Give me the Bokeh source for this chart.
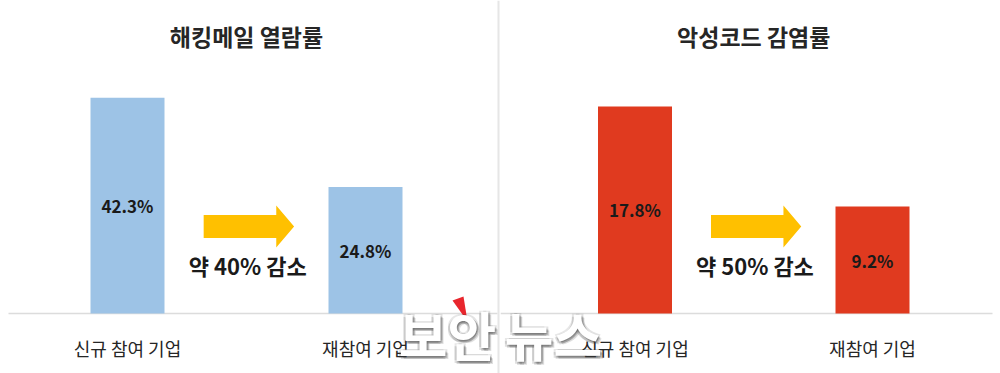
from bokeh.plotting import figure
from bokeh.layouts import row
from bokeh.models import Label, Span, Range1d
from bokeh.core.properties import value
from bokeh.embed import file_html
from bokeh.resources import INLINE

# --- data -------------------------------------------------------------
categories = ["신규 참여 기업", "재참여 기업"]
panel_titles = ["해킹메일 열람률", "악성코드 감염률"]
mail_open_rate = [42.3, 24.8]         # %
malware_infection_rate = [17.8, 9.2]  # %
reduction_notes = ["약 40% 감소", "약 50% 감소"]
watermark_parts = ["보안", "뉴스"]

# --- styling ----------------------------------------------------------
FONT = "Noto Sans CJK KR"
H = 373
BASE_PX = 313          # page row of the zero line
TEXT = "#262626"
ARROW = "#FFC000"
GRID = "#dcdcdc"


def make_panel(title, values, note, color, px_per_unit, width, left_px,
               center0_px, step_px, base_x0, base_x1, mark, mark_cx,
               wedge=False, divider_px=None):
    """One bar panel; fx/fy turn page pixels into this panel's data units."""

    def fx(px):
        return (px - center0_px) / step_px

    def fy(py):
        return (BASE_PX - py) / px_per_unit

    p = figure(width=width, height=H,
               x_range=Range1d(fx(left_px), fx(left_px + width)),
               y_range=Range1d(fy(H), fy(0)), output_backend="svg",
               toolbar_location=None, min_border=0)
    p.outline_line_color = None
    p.axis.visible = False
    p.grid.visible = False
    p.background_fill_color = "white"
    p.border_fill_color = "white"

    idx = list(range(len(categories)))

    # zero line
    p.segment(x0=[fx(base_x0)], y0=[0], x1=[fx(base_x1)], y1=[0],
              line_color=GRID, line_width=1.5)

    p.vbar(x=idx, top=values, width=74 / step_px, fill_color=color,
           line_color=None)

    # value labels in the middle of each bar
    p.text(x=idx, y=[v / 2 for v in values], text=[f"{v}%" for v in values],
           text_align="center", text_baseline="middle",
           text_font=value(FONT), text_font_size="17px",
           text_font_style="bold", text_color="#1a1a1a")

    # category labels under the zero line
    p.text(x=idx, y=[fy(347)] * len(idx), text=categories,
           text_align="center", text_baseline="middle",
           text_font=value(FONT), text_font_size="18px", text_color=TEXT)

    p.add_layout(Label(x=0.5, y=fy(35), text=title, text_align="center",
                       text_baseline="middle", text_font=FONT,
                       text_font_size="23px", text_font_style="bold",
                       text_color=TEXT))

    # block arrow between the two bars
    x0, xb, x1 = 0.32, 0.625, 0.70
    yc = fy(226)
    sh = 11.5 / px_per_unit
    hh = 21 / px_per_unit
    p.patch(x=[x0, xb, xb, x1, xb, xb, x0],
            y=[yc + sh, yc + sh, yc + hh, yc, yc - hh, yc - sh, yc - sh],
            fill_color=ARROW, line_color=None)

    p.add_layout(Label(x=0.505, y=fy(264), text=note, text_align="center",
                       text_baseline="middle", text_font=FONT,
                       text_font_size="22px", text_font_style="bold",
                       text_color="#1a1a1a"))

    if divider_px is not None:
        p.add_layout(Span(location=fx(divider_px), dimension="height",
                          line_color="#e6e6e6", line_width=2))

    # publisher watermark with a soft shadow
    for dx, dy, a in [(-2, -1, 0.12), (2, -1, 0.14), (-2, 2, 0.16),
                      (0, 3, 0.18), (2, 2, 0.22), (3, 3, 0.16), (1, 1, 0.2)]:
        p.add_layout(Label(x=fx(mark_cx + dx), y=fy(333 + dy), text=mark,
                           text_align="center", text_baseline="middle",
                           text_font=FONT, text_font_size="53px",
                           text_font_style="bold", text_color="#3a3a3a",
                           text_alpha=a))
    p.add_layout(Label(x=fx(mark_cx), y=fy(333), text=mark,
                       text_align="center", text_baseline="middle",
                       text_font=FONT, text_font_size="53px",
                       text_font_style="bold", text_color="white"))
    if wedge:
        p.patch(x=[fx(452), fx(463), fx(467)], y=[fy(300), fy(296), fy(321)],
                fill_color="#E8262D", line_color=None)
    return p


left = make_panel(panel_titles[0], mail_open_rate, reduction_notes[0],
                  "#9DC3E6", 5.1, 500, 0, 127, 238, 8, 497,
                  watermark_parts[0], 447, wedge=True, divider_px=498)
right = make_panel(panel_titles[1], malware_infection_rate, reduction_notes[1],
                   "#E03A1F", 11.63, 500, 500, 634.5, 237.5, 500, 992,
                   watermark_parts[1], 553)

layout = row(left, right, spacing=0)
open("out.html", "w").write(file_html(layout, INLINE))
